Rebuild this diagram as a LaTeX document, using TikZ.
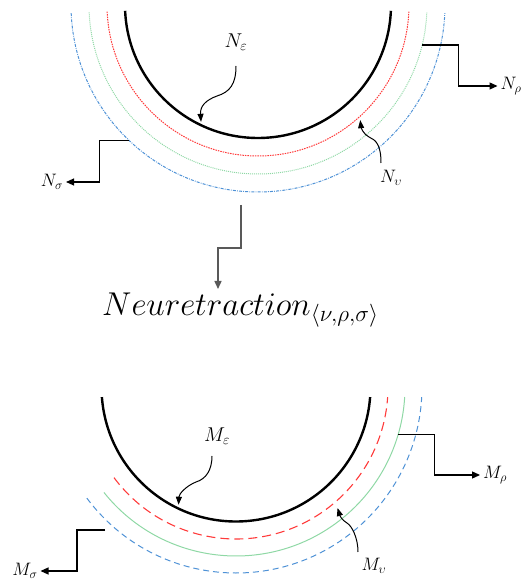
\RequirePackage{fix-cm}
\documentclass[tikz,border=0pt]{standalone}
\usepackage{amsmath,amssymb}
\usetikzlibrary{arrows.meta,calc}
\definecolor{ringred}{HTML}{FF3B3B}
\definecolor{ringgreen}{HTML}{8FD8A5}
\definecolor{ringblue}{HTML}{4F92D6}
\definecolor{graytext}{HTML}{595959}
\tikzset{
  core/.style={draw=black,line width=2.4pt},
  redtop/.style={draw=ringred,line width=1pt,dash pattern=on 1.5pt off 1pt},
  greentop/.style={draw=ringgreen,line width=1pt,dash pattern=on 1pt off 1pt},
  bluetop/.style={draw=ringblue,line width=1pt,dash pattern=on 3pt off 1.2pt on 0.8pt off 1.2pt},
  redbot/.style={draw=ringred,line width=1.1pt,dash pattern=on 9pt off 5pt},
  greenbot/.style={draw=ringgreen,line width=1pt},
  bluebot/.style={draw=ringblue,line width=1pt,dash pattern=on 6pt off 4pt},
  lbl/.style={font=\fontsize{18}{20}\selectfont,inner sep=0pt,outer sep=3pt},
  lblbig/.style={font=\fontsize{20}{22}\selectfont,inner sep=0pt},
  titletext/.style={font=\fontsize{33}{38}\selectfont,inner sep=0pt},
  elbow/.style={-{Triangle[length=8pt,width=7pt]},draw=black,line width=1.2pt},
  drop/.style={-{Triangle[length=8pt,width=7pt]},draw=graytext,line width=1.4pt},
  curvy/.style={-{Triangle[length=8pt,width=6pt]},draw=black,line width=1pt}
}

\begin{document}
\begin{tikzpicture}[x=1pt,y=1pt]
\path[use as bounding box] (0,0) rectangle (523,582);
% upper rings
\coordinate (Nc) at (258,577);
\foreach \r/\st in {133/core,151/redtop,169/greentop,187/bluetop}
  \draw[\st] ($(Nc)+(182.5:\r)$) arc[start angle=182.5,end angle=357.5,radius=\r];
\node[lblbig] (Neps) at (236,540) {$N_{\varepsilon}$};
\node[lbl] (Nrho) at (511,496) {$N_{\rho}$};
\node[lbl] (Nsigma) at (52,400) {$N_{\sigma}$};
\node[lbl] (Nnu) at (391,404) {$N_{\upsilon}$};
\coordinate (Neps-s) at (236,516);
\coordinate (Neps-t) at ($(Nc)+(244:130)$);
\coordinate (Nnu-s) at (381,419);
\coordinate (Nnu-t) at ($(Nc)+(311.6:154)$);
\coordinate (Nrho-s) at ($(Nc)+(346.3:169)$);
\coordinate (Nsigma-s) at ($(Nc)+(226.3:187)$);
\draw[curvy] (Neps-s) .. controls +(0,-18) and (230,490) .. (217,486) .. controls (206,482) and (200,476) .. (Neps-t);
\draw[curvy] (Nnu-s) .. controls +(0,18) and (376,442) .. (369,445) .. controls (363,448) and (361,455) .. (Nnu-t);
\draw[elbow] (Nrho-s) -- ++(36,0) |- (Nrho);
\draw[elbow] (Nsigma-s) -- ++(-29,0) |- (Nsigma);
% retraction
\node[titletext,anchor=base west] (title) at (102,266) {$Neuretraction_{\langle\nu,\rho,\sigma\rangle}$};
\coordinate (mid-s) at (241,377);
\coordinate (mid-t) at (218,293);
\draw[drop] (mid-s) -- ++(0,-43) -| (mid-t);
% lower rings
\coordinate (Mc) at (236,195);
\foreach \r/\a/\b/\st in {134.5/184.3/355.7/core,152/216.6/356.2/redbot,169/218.6/356.6/greenbot,186/216.7/356.9/bluebot}
  \draw[\st] ($(Mc)+(\a:\r)$) arc[start angle=\a,end angle=\b,radius=\r];
\node[lblbig] (Meps) at (217,146) {$M_{\varepsilon}$};
\node[lbl] (Mrho) at (495,107) {$M_{\rho}$};
\node[lbl] (Msigma) at (25,11) {$M_{\sigma}$};
\node[lbl] (Mnu) at (374,16) {$M_{\upsilon}$};
\coordinate (Meps-s) at (212,126);
\coordinate (Meps-t) at ($(Mc)+(244:131)$);
\coordinate (Mnu-s) at (358,30);
\coordinate (Mnu-t) at ($(Mc)+(310:158)$);
\coordinate (Mrho-s) at ($(Mc)+(343.7:169)$);
\coordinate (Msigma-s) at (105,52);
\draw[curvy] (Meps-s) .. controls +(0,-14) and (206,103) .. (196,100) .. controls (186,96) and (179,88) .. (Meps-t);
\draw[curvy] (Mnu-s) .. controls +(0,14) and (352,56) .. (347,59) .. controls (342,62) and (340,66) .. (Mnu-t);
\draw[elbow] (Mrho-s) -- ++(36,0) |- (Mrho);
\draw[elbow] (Msigma-s) -- ++(-28,0) |- (Msigma);
\end{tikzpicture}
\end{document}
